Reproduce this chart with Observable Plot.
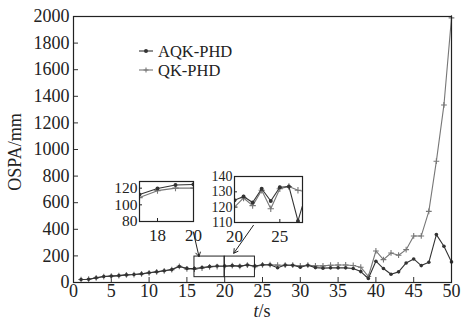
<!DOCTYPE html>
<html><head><meta charset="utf-8">
<script src="https://cdn.jsdelivr.net/npm/d3@7"></script>
<script src="https://cdn.jsdelivr.net/npm/@observablehq/plot@0.6"></script>
<style>
body{margin:0;background:#fff;}
#wrap{position:relative;width:464px;height:320px;font-family:"Liberation Serif",serif;color:#222;}
#wrap svg{overflow:visible;font-family:"Liberation Serif",serif !important;}
#wrap svg text{font-family:"Liberation Serif",serif !important;}
.abs{position:absolute;}
.leg{position:absolute;left:139px;font-size:16.5px;line-height:15px;height:15px;display:flex;align-items:center;white-space:nowrap;}
</style></head>
<body><div id="wrap"></div>
<script>
const time = d3.range(1, 51);
const aqk = [22,25,35,45,48,52,57,60,65,73,80,88,97,120,106,105,112.5,119.6,123.8,124.5,127,123,132,124,133,133.5,111,131,130,115,130,112,108,110,110,110,105,82,30,160,105,62,80,147,177,127,152,360,272,155];
const qk  = [22,25,35,45,48,52,57,60,65,73,80,88,97,122,102,100,108.7,117,120,120,126,121,131,119,132,133.5,131,130,130,125,130,125,125,130,132,132,128,115,45,237,172,222,205,247,350,350,535,912,1335,1990];
const seriesNames = ["AQK-PHD", "QK-PHD"];
const xTicks = [0,5,10,15,20,25,30,35,40,45,50];
const yTicks = [0,200,400,600,800,1000,1200,1400,1600,1800,2000];
const zoomBoxes = [{x1:16,x2:20,y1:40,y2:195},{x1:20,x2:24,y1:40,y2:195}];
const arrows = [{x1:15.85,y1:380,x2:16.6,y2:195},{x1:23.8,y1:430,x2:21.2,y2:220}];
const inset1 = {x:[17,20], y:[80,128], xt:[18,20], yt:[80,100,120], yfs:"15.5px"};
const inset2 = {x:[20,27.5], y:[110,140], xt:[20,25], yt:[110,120,130,140], yfs:"14px"};

const rows = [];
time.forEach((t,i)=>{rows.push({t, v:aqk[i], s:seriesNames[0]}); rows.push({t, v:qk[i], s:seriesNames[1]});});
const A = rows.filter(d=>d.s===seriesNames[0]);
const Q = rows.filter(d=>d.s===seriesNames[1]);
const dark = "#333", grey = "#777";
const font = {fontFamily:"Liberation Serif", fontSize:"18px", color:"#222", background:"transparent", overflow:"visible"};
const fmt = d => String(d);

function seriesMarks(filter, r, clip){
  const a = A.filter(filter), q = Q.filter(filter);
  return [
    Plot.line(q, {x:"t", y:"v", stroke:grey, strokeWidth:1.1, clip}),
    Plot.dot(q, {x:"t", y:"v", symbol:"plus", r:r, stroke:grey, strokeWidth:1.1, clip}),
    Plot.line(a, {x:"t", y:"v", stroke:dark, strokeWidth:1.1, clip}),
    Plot.dot(a, {x:"t", y:"v", r:r*0.9, fill:dark, stroke:"none", clip})
  ];
}

const main = Plot.plot({
  width:464, height:320, marginLeft:73, marginRight:13, marginTop:16, marginBottom:38,
  style:{...font, background:"white"},
  x:{domain:[0,50]}, y:{domain:[0,2000]},
  marks:[
    Plot.axisX({ticks:xTicks, tickFormat:fmt, tickSize:-5, tickPadding:7, label:null, stroke:dark}),
    Plot.axisY({ticks:yTicks, tickFormat:fmt, tickSize:-5, tickPadding:9, label:null, stroke:dark}),
    ...seriesMarks(()=>true, 2, false),
    Plot.rect(zoomBoxes, {x1:"x1", x2:"x2", y1:"y1", y2:"y2", fill:"none", stroke:"#222", strokeWidth:1}),
    Plot.arrow(arrows, {x1:"x1", y1:"y1", x2:"x2", y2:"y2", stroke:"#222", strokeWidth:1, headLength:7, bend:0}),
    Plot.frame({stroke:"#222", strokeWidth:1.2})
  ]
});
const wrap = document.getElementById("wrap");
main.classList.add("abs"); main.style.left="0px"; main.style.top="0px";
wrap.appendChild(main);

function makeInset(cfg, w, h, left, top, filter){
  const p = Plot.plot({
    width:w+44, height:h+32, marginLeft:40, marginRight:4, marginTop:6, marginBottom:26,
    style:{...font, fontSize:"17px"},
    x:{domain:cfg.x}, y:{domain:cfg.y},
    marks:[
      Plot.frame({fill:"white", stroke:"none"}),
      Plot.axisX({ticks:cfg.xt, tickFormat:fmt, tickSize:-3, tickPadding:10, label:null}),
      Plot.axisY({ticks:cfg.yt, tickFormat:fmt, tickSize:-3, tickPadding:5, label:null, fontSize:cfg.yfs}),
      ...seriesMarks(filter, 2.2, true),
      Plot.frame({stroke:"#222", strokeWidth:1.2})
    ]
  });
  p.classList.add("abs"); p.style.left=(left-40)+"px"; p.style.top=(top-6)+"px";
  wrap.appendChild(p);
}
makeInset(inset1, 54, 40, 139, 181, d=>d.t>=17 && d.t<=20);
makeInset(inset2, 68, 46, 234, 176, d=>d.t>=20 && d.t<=28);

// axis titles
const yl = document.createElement("div");
yl.className="abs"; yl.textContent="OSPA/mm";
Object.assign(yl.style,{left:"15px", top:"152px", fontSize:"18px", transform:"translate(-50%,-50%) rotate(-90deg)", whiteSpace:"nowrap"});
wrap.appendChild(yl);
const xl = document.createElement("div");
xl.className="abs"; xl.innerHTML="<i>t</i>/s";
Object.assign(xl.style,{left:"262px", top:"311px", fontSize:"18px", lineHeight:"17px", transform:"translate(-50%,-50%)", whiteSpace:"nowrap"});
wrap.appendChild(xl);

// legend
function legRow(name, top, isPlus){
  const d = document.createElement("div");
  d.className="leg"; d.style.top=(top-7.5)+"px";
  const sym = isPlus
    ? `<path d="M4.5,0H9.5M7,-2.5V2.5" stroke="${grey}" stroke-width="1.1"/>`
    : `<circle cx="7" cy="0" r="2" fill="${dark}"/>`;
  d.innerHTML = `<svg width="16" height="14" viewBox="0 -7 16 14" style="margin-right:3px"><line x1="0" x2="14" y1="0" y2="0" stroke="${isPlus?grey:dark}" stroke-width="1.1"/>${sym}</svg><span>${name}</span>`;
  wrap.appendChild(d);
}
legRow(seriesNames[0], 51, false);
legRow(seriesNames[1], 70, true);
</script></body></html>
